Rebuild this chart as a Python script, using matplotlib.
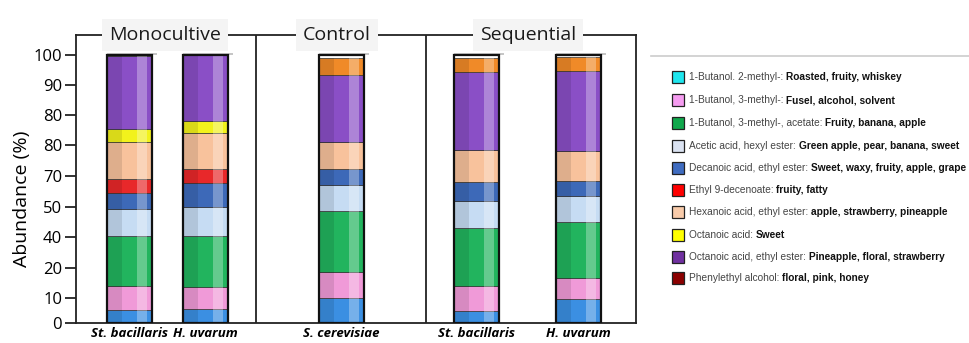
import numpy as np
import matplotlib
matplotlib.use("Agg")
import matplotlib.pyplot as plt
from matplotlib.lines import Line2D
from matplotlib.patches import Rectangle

# ---- data (percent of each bar, bottom to top) ----
samples = ["St. bacillaris", "H. uvarum", "S. cerevisiae", "St. bacillaris", "H. uvarum"]
groups = ["Monocultive", "Control", "Sequential"]

butanol_2methyl = [4.9, 5.2, 9.2, 4.6, 8.8]
butanol_3methyl = [8.8, 8.3, 9.9, 9.2, 8.1]
butanol_acetate = [18.9, 19.1, 22.8, 21.8, 20.9]
hexyl_acetate = [9.8, 10.6, 9.6, 9.9, 9.7]
ethyl_decanoate = [6.2, 8.9, 6.1, 7.2, 5.5]
ethyl_9_decenoate = [5.1, 5.5, 0, 0, 0]
ethyl_hexanoate = [14.0, 13.2, 10.1, 11.9, 11.2]
octanoic_acid = [4.6, 4.7, 0, 0, 0]
ethyl_octanoate = [27.3, 24.5, 24.7, 29.2, 29.8]
other = [0, 0, 6.4, 5.2, 5.1]

series = [butanol_2methyl, butanol_3methyl, butanol_acetate, hexyl_acetate,
          ethyl_decanoate, ethyl_9_decenoate, ethyl_hexanoate, octanoic_acid,
          ethyl_octanoate, other]
bar_colors = ["#3b8fe2", "#f09ad8", "#22b45e", "#c6dcf3", "#3d69b8",
              "#e8282a", "#f8c29c", "#f2f21c", "#8a4fc6", "#f08a28"]

# y ticks as printed on the original (labels are as shown)
ytick_pos = [0, 9.3, 20.5, 32.1, 43.3, 54.9, 66.4, 77.6, 88.8, 100]
ytick_labels = ["0", "10", "20", "40", "50", "70", "80", "80", "90", "100"]

legend_names = ["1-Butanol. 2-methyl-: ", "1-Butanol, 3-methyl-: ",
                "1-Butanol, 3-methyl-, acetate: ", "Acetic acid, hexyl ester: ",
                "Decanoic acid, ethyl ester: ", "Ethyl 9-decenoate: ",
                "Hexanoic acid, ethyl ester: ", "Octanoic acid: ",
                "Octanoic acid, ethyl ester: ", "Phenylethyl alcohol: "]
legend_odors = ["Roasted, fruity, whiskey", "Fusel, alcohol, solvent",
                "Fruity, banana, apple", "Green apple, pear, banana, sweet",
                "Sweet, waxy, fruity, apple, grape", "fruity, fatty",
                "apple, strawberry, pineapple", "Sweet",
                "Pineapple, floral, strawberry", "floral, pink, honey"]
legend_colors = ["#1ee6ee", "#f59cf0", "#10a84c", "#dbe3f2", "#3f6cc0",
                 "#ff0000", "#f8cbaa", "#ffff00", "#7030a0", "#8b0000"]

# ---- layout ----
W, H = 969, 343
fig = plt.figure(figsize=(W / 100, H / 100), dpi=100)
fig.patch.set_facecolor("white")

x0, x1, ybot, ytop = 76, 636, 323, 35
ax = fig.add_axes([x0 / W, (H - ybot) / H, (x1 - x0) / W, (ybot - ytop) / H])
ax.set_xlim(x0, x1)
ax.set_ylim(0, 100 * (ybot - ytop) / (ybot - 55))
ax.set_facecolor("white")

pos = np.array([129.5, 205, 341, 476.5, 578.5])
width = 45

bottom = np.zeros(len(samples))
for vals, col in zip(series, bar_colors):
    vals = np.array(vals)
    ax.bar(pos, vals, width, bottom=bottom, color=col, edgecolor="#333333",
           linewidth=0.5, zorder=2)
    bottom = bottom + vals

# cylinder-like shading
ax.bar(pos - width * 0.33, bottom, width * 0.34, color="black", alpha=0.10,
       linewidth=0, zorder=3)
ax.bar(pos + width * 0.28, bottom, width * 0.22, color="white", alpha=0.30,
       linewidth=0, zorder=3)
# tube outline
ax.bar(pos, [100] * len(pos), width, fill=False, edgecolor="#111111",
       linewidth=1.6, zorder=4)
ax.hlines(np.full(len(pos), 100.3), pos - width / 2, pos + width / 2 + 5,
          color="#bbbbbb", linewidth=1.2, zorder=3)

# group separators and frame
for xs in [256, 426]:
    ax.axvline(xs, color="#222222", linewidth=1.3, zorder=1)
for s in ax.spines.values():
    s.set_linewidth(1.3)
    s.set_color("#222222")

ymax = ax.get_ylim()[1]
for name, xc in zip(groups, [165, 337, 528]):
    ax.text(xc, ymax, name, ha="center", va="center", fontsize=14,
            family="Open Sans", color="#1a1a1a", zorder=6,
            bbox=dict(boxstyle="square,pad=0.35", facecolor="#f4f4f4",
                      edgecolor="none"))

ax.set_xticks(pos)
ax.set_xticklabels(samples, fontsize=9.5, fontweight="bold", style="italic",
                   family="Open Sans")
ax.tick_params(axis="x", length=0, pad=3)
ax.set_yticks(ytick_pos)
ax.set_yticklabels(ytick_labels, fontsize=12, family="Open Sans")
ax.tick_params(axis="y", length=8, width=1.3, pad=2, color="#222222")
ax.set_ylabel("Abundance (%)", fontsize=14, family="Open Sans")
ax.yaxis.set_label_coords(-0.08, 0.43)

# ---- legend panel ----
fig.add_artist(Line2D([651 / W, 1.0], [1 - 56 / H, 1 - 56 / H],
                      color="#cccccc", linewidth=1.2))
row_y = [77, 100, 123, 146, 168, 190, 212, 235, 257, 278]
for yy, nm, od, col in zip(row_y, legend_names, legend_odors, legend_colors):
    fig.add_artist(Rectangle((672 / W, 1 - (yy + 6) / H), 12 / W, 12 / H,
                             facecolor=col, edgecolor="#222222", linewidth=0.9,
                             transform=fig.transFigure))
    t = fig.text(689 / W, 1 - yy / H, nm, fontsize=7.3, va="center",
                 family="Liberation Sans", color="#444444")
    ax.annotate(od, xy=(1, 0.5), xycoords=t, va="center", ha="left",
                fontsize=7.3, fontweight="bold", family="Liberation Sans",
                color="#111111", annotation_clip=False)

fig.savefig("out.png", dpi=100)
